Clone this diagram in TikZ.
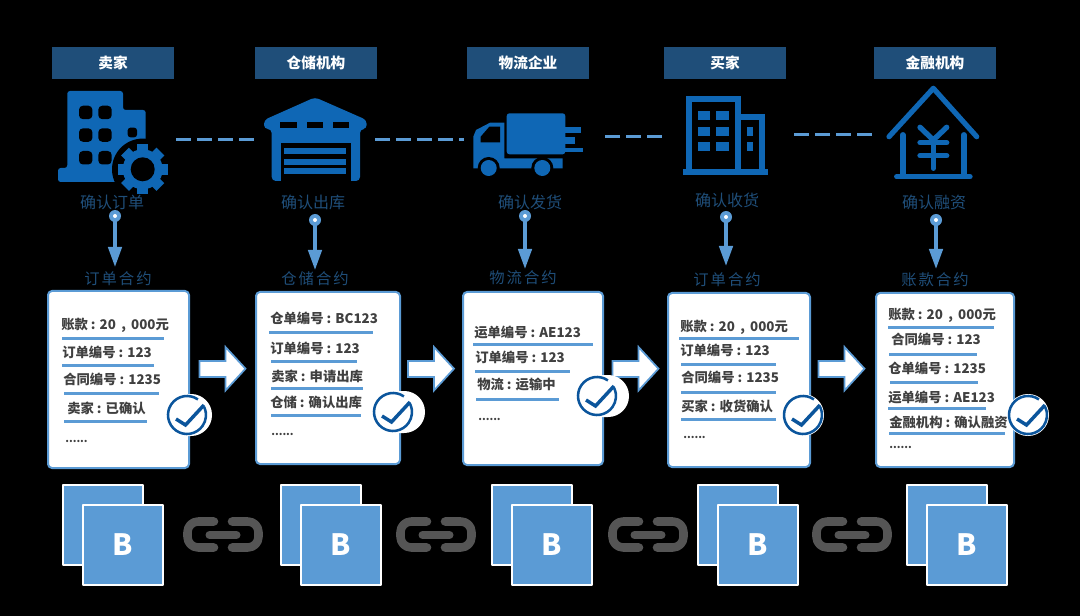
\documentclass[tikz,border=0pt]{standalone}
\usepackage{fontspec}
\setmainfont{Noto Sans CJK SC}
\newfontfamily\titlefont[LetterSpace=13]{Noto Sans CJK SC}
\usetikzlibrary{arrows.meta, positioning}
\definecolor{headfill}{HTML}{1F4E79}
\definecolor{iconblue}{HTML}{0F67B5}
\definecolor{lineblue}{HTML}{5B9BD5}
\definecolor{checkblue}{HTML}{0B559C}
\definecolor{cardtext}{HTML}{404040}
\definecolor{chaingray}{HTML}{555555}

\begin{document}
\begin{tikzpicture}[
    x=0.75pt, y=-0.75pt,
    headbox/.style={fill=headfill, text=white, minimum width=91.5pt, minimum height=24pt,
        inner sep=0pt, font=\fontsize{11}{13}\selectfont\bfseries},
    caption/.style={text=headfill, inner sep=0pt, font=\fontsize{12}{14}\selectfont},
    contract/.style={text=headfill, inner sep=0pt, font=\titlefont\fontsize{11.5}{14}\selectfont},
    pin/.style={circle, fill=lineblue, minimum size=9pt, inner sep=0pt},
    pinarw/.style={-{Triangle[length=15pt, width=10pt]}, lineblue, line width=2.6pt},
    dashline/.style={lineblue, line width=2.25pt, dash pattern=on 11.25pt off 4.5pt},
    card/.style={draw=lineblue, fill=white, line width=1.5pt, rounded corners=3pt,
        anchor=north west, inner sep=0pt},
    cardline/.style={anchor=west, inner sep=0pt, text=cardtext, text height=0.8em, text depth=0.2em,
        font=\fontsize{10}{12}\selectfont\bfseries},
    moredots/.style={cardline, font=\fontsize{8}{10}\selectfont\bfseries},
    rulerline/.style={lineblue, line width=2.25pt},
    blockarw/.style={draw=lineblue, fill=white, line width=1.3pt, line join=miter},
    blocksq/.style={draw=white, fill=lineblue, line width=1.5pt, anchor=north west, minimum size=60pt,
        inner sep=0pt, text=white, font=\fontsize{22}{26}\selectfont\bfseries},
    chainlink/.style={chaingray, line width=6.4pt, line cap=round, rounded corners=8pt},
    every path/.append style={line join=round},
]
\fill[black] (0,0) rectangle (1080,616);

% === Header row ===
\foreach \i/\x/\txt in {1/113/卖家, 2/316/仓储机构, 3/528/物流企业, 4/725/买家, 5/935/金融机构}
    \node[headbox] (head\i) at (\x,63) {\txt};

% === Icon: seller ===
\fill[iconblue, rounded corners=2pt] (67.3,91) -- (123,91) -- (123,110) -- (145.7,110) -- (145.7,182)
    -- (58,182) -- (58,168) -- (67.3,168) -- cycle;
\foreach \wx in {79,98.3} \foreach \wy in {105.7,128.3,151}
    \fill[black, rounded corners=3pt] (\wx,\wy) rectangle ++(13.4,13.5);
\fill[black, rounded corners=2pt] (127.7,127.7) rectangle (137,137.3);
\begin{scope}[shift={(142.7,169.3)}]
    \fill[black] (0,0) circle (30.7);
    \foreach \a in {0,45,...,315}
        \fill[iconblue, rotate=\a] (-5.5,-25) rectangle (5.5,0);
    \fill[iconblue] (0,0) circle (20);
    \fill[black] (0,0) circle (12);
\end{scope}

% === Icon: warehouse ===
\fill[iconblue, rounded corners=3pt] (315,97.3) -- (366.7,120) -- (366.7,129) -- (360,129) -- (360,181)
    -- (271.7,181) -- (271.7,129) -- (264,129) -- (264,120) -- cycle;
\foreach \wx in {280,306.7,332.7}
    \fill[black] (\wx,121.7) rectangle ++(16.7,6.6);
\fill[black] (280.7,142.7) rectangle (350.7,181.5);
\foreach \wy in {148.3,158.7,168.3}
    \fill[iconblue] (284.3,\wy) rectangle (345.7,\wy+6);

% === Icon: truck ===
\fill[iconblue, rounded corners=2pt] (506.7,113.3) rectangle (565.3,154.3);
\fill[iconblue] (565,127) rectangle (581,132.7);
\fill[iconblue] (565,136.7) rectangle (575,144.3);
\fill[iconblue] (565,148) rectangle (583,152.3);
\fill[iconblue] (473.3,168.3) -- (473.3,136.7) -- (476,130) -- (490,122.7) -- (504.3,122.7) -- (504.3,158.3)
    -- (562.7,158.3) -- (562.7,168.3) -- cycle;
\fill[black] (480.7,142.3) -- (480.7,136.7) -- (489.3,126.7) -- (500,126.7) -- (500,142.3) -- cycle;
\foreach \wx in {488.7,542.3} {
    \fill[black] (\wx,168) circle (11);
    \fill[iconblue] (\wx,168) circle (8);
}

% === Icon: buyer ===
\draw[iconblue, line width=4.5pt, line join=miter] (688.7,172) -- (688.7,99) -- (737.7,99) -- (737.7,172);
\draw[iconblue, line width=4.5pt, line join=miter] (737.7,117.5) -- (762.3,117.5) -- (762.3,172);
\fill[iconblue] (683,169.3) rectangle (767.7,175);
\foreach \wx in {697.7,716.3} \foreach \wy in {111.3,126.7,141.7}
    \fill[iconblue] (\wx,\wy) rectangle ++(12.5,9);
\foreach \wy in {126.7,141.7}
    \fill[iconblue] (746.7,\wy) rectangle ++(6,9);

% === Icon: bank ===
\draw[iconblue, line width=3.9pt, line cap=round] (889,136.7) -- (933.3,88.3) -- (976.7,136.7);
\draw[iconblue, line width=4.4pt, line cap=round] (902.7,135) -- (902.7,175);
\draw[iconblue, line width=4.4pt, line cap=round] (963.7,135) -- (963.7,175);
\draw[iconblue, line width=4pt, line cap=round] (896.7,176.7) -- (970,176.7);
\draw[iconblue, line width=4pt, line cap=round] (920,127.3) -- (933.3,140) -- (946.7,127.3);
\draw[iconblue, line width=4pt, line cap=round] (933.3,140) -- (933.3,168.3);
\draw[iconblue, line width=4pt, line cap=round] (920,142.7) -- (946.7,142.7);
\draw[iconblue, line width=4pt, line cap=round] (920,155.7) -- (946.7,155.7);

% === Dashed links between icons ===
\foreach \i/\xa/\xb/\y in {1/176/254/140, 2/375/464/140, 3/605/662/137, 4/794/872/135} {
    \coordinate (dash\i a) at (\xa,\y);
    \coordinate (dash\i b) at (\xb,\y);
    \draw[dashline] (dash\i a) -- (dash\i b);
}

% === Captions, pins, contract names ===
\foreach \i/\cx/\cy/\txt in {1/112/202/确认订单, 2/313/202/确认出库, 3/530/202/确认发货, 4/727/200/确认收货, 5/934/202/确认融资}
    \node[caption] (conf\i) at (\cx,\cy) {\txt};
\foreach \i/\px/\py/\ty in {1/115/216/267, 2/315/220/270, 3/525/216/269, 4/726/217/266, 5/936/220/269} {
    \coordinate (tip\i) at (\px,\ty);
    \draw[pinarw] (\px,\py) -- (tip\i);
    \node[pin] (pin\i) at (\px,\py) {};
    \node[circle, fill=white, minimum size=3pt, inner sep=0pt] (pindot\i) at (pin\i) {};
}
\foreach \i/\cx/\cy/\txt in {1/118/279/订单合约, 2/315/279/仓储合约, 3/523/278/物流合约, 4/727/280/订单合约, 5/935/280/账款合约}
    \node[contract] (name\i) at (\cx,\cy) {\txt};

% === Cards ===
\node[card, minimum width=105.75pt, minimum height=132.75pt] (card1) at (47,290) {};
\node[card, minimum width=108pt, minimum height=129pt] (card2) at (255,291) {};
\node[card, minimum width=105pt, minimum height=129.75pt] (card3) at (462,291) {};
\node[card, minimum width=106.5pt, minimum height=130.5pt] (card4) at (667,292) {};
\node[card, minimum width=103.5pt, minimum height=130.5pt] (card5) at (875,292) {};

% === Card lines: text x/y, rule x1/x2/y ===
\foreach \tx/\ty/\txt/\ra/\rb/\ry [count=\n] in {
    61/325/{账款 : 20 \,,\, 000元}/62/164/338,
    62/353/{订单编号 : 123}/62/154/365,
    63/380/{合同编号 : 1235}/64/159/393,
    67/409/{卖家 : 已确认}/64/147/421,
    270/320/{仓单编号 : BC123}/269/373/332,
    270/349/{订单编号 : 123}/271/357/361,
    271/377/{卖家 : 申请出库}/271/363/388,
    270/403/{仓储 : 确认出库}/271/361/415,
    474/333/{运单编号 : AE123}/473/593/344,
    475/358/{订单编号 : 123}/475/570/371,
    477/385/{物流 : 运输中}/476/559/399,
    680/327/{账款 : 20 \,,\, 000元}/679/799/338,
    680/351/{订单编号 : 123}/681/776/364,
    681/378/{合同编号 : 1235}/681/776/392,
    681/407/{买家 : 收货确认}/681/776/419,
    888/316/{账款 : 20 \,,\, 000元}/888/994/327,
    891/340/{合同编号 : 123}/889/977/354,
    888/369/{仓单编号 : 1235}/890/978/382,
    888/398/{运单编号 : AE123}/888/986/408,
    889/423/{金融机构 : 确认融资}/889/1005/433} {
    \node[cardline] (line\n) at (\tx,\ty) {\txt};
    \draw[rulerline] (\ra,\ry) -- (\rb,\ry);
}
\foreach \i/\tx/\ty in {1/65/438, 2/271/431, 3/478/416, 4/683/434, 5/889/444}
    \node[moredots] (more\i) at (\tx,\ty) {......};

% === Block arrows between cards ===
\foreach \x in {199.5,408,612.5,818.5}
    \draw[blockarw] (\x,361) -- (\x+26,361) -- (\x+26,347) -- (\x+46,368.7) -- (\x+26,390.5)
        -- (\x+26,377) -- (\x,377) -- cycle;

% === Check badges ===
\foreach \i/\cx/\cy/\xr in {1/187/415/212, 2/393/412/425, 3/597/396/629, 4/803/415/824, 5/1028/415/1049} {
    \fill[white, rounded corners=15.7pt] (\cx-21,\cy-21) rectangle (\xr,\cy+21);
    \begin{scope}[shift={(\cx,\cy)}]
        \draw[checkblue, line width=1.9pt] (55:14.25pt) arc[start angle=55, end angle=385, radius=14.25pt];
        \draw[checkblue, line width=2.6pt, line join=miter] (-11,4) -- (-1.5,10) -- (17,-10);
    \end{scope}
}

% === Blocks ===
\foreach \i/\x in {1/62, 2/280, 3/491, 4/697, 5/906} {
    \node[blocksq] (back\i) at (\x,484) {};
    \node[blocksq] (block\i) at (\x+20,504) {B};
}

% === Chain links ===
\foreach \x in {223,436,648,852} {
    \begin{scope}[shift={(\x,535)}]
        \draw[chainlink] (-9,-13.5) -- (-35.5,-13.5) -- (-35.5,12.5) -- (-9,12.5);
        \draw[chainlink] (9,-13.5) -- (35.5,-13.5) -- (35.5,12.5) -- (9,12.5);
        \draw[chaingray, line width=6pt, line cap=round] (-13.5,0) -- (13.5,0);
    \end{scope}
}
\end{tikzpicture}
\end{document}
